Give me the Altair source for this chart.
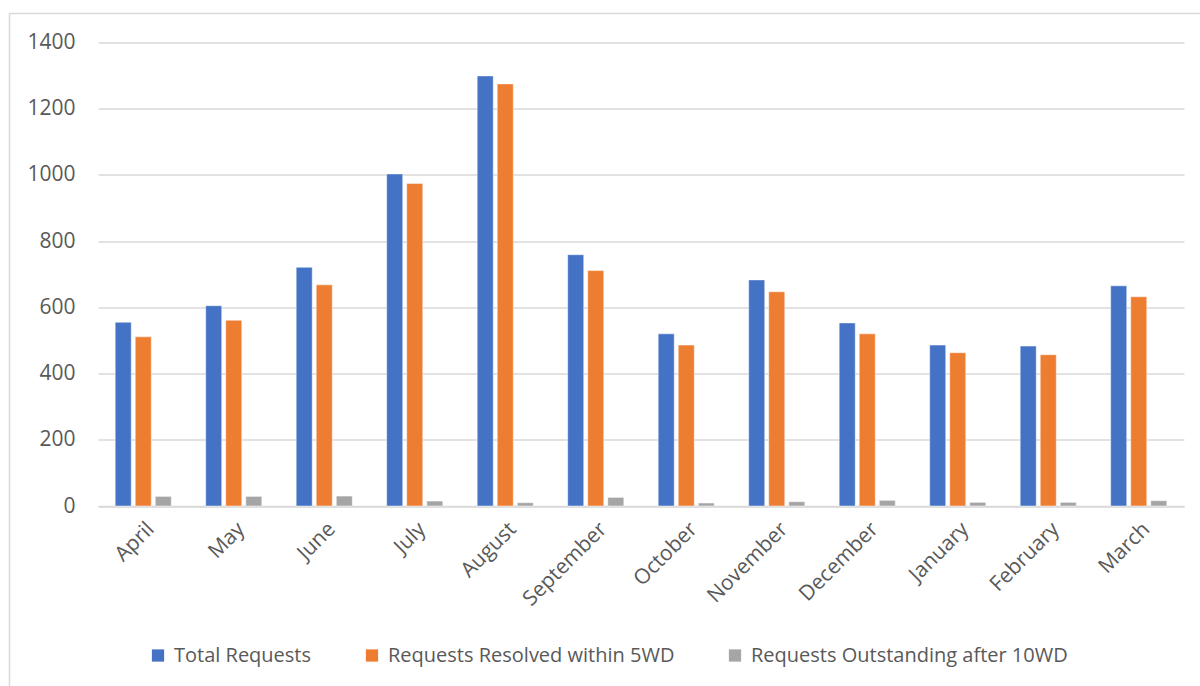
import altair as alt
import pandas as pd

months = ["April", "May", "June", "July", "August", "September", "October",
          "November", "December", "January", "February", "March"]
series = ["Total Requests", "Requests Resolved within 5WD", "Requests Outstanding after 10WD"]
total = [555, 605, 721, 1003, 1299, 759, 520, 683, 553, 486, 483, 665]
resolved = [511, 561, 668, 974, 1275, 711, 486, 647, 520, 463, 457, 632]
outstanding = [29, 29, 30, 15, 10, 26, 9, 13, 17, 11, 11, 16]
colors = ["#4472C4", "#ED7D31", "#A5A5A5"]

rows = []
for i, m in enumerate(months):
    for s, vals in zip(series, [total, resolved, outstanding]):
        rows.append({"Month": m, "Series": s, "Value": vals[i]})
df = pd.DataFrame(rows)

FONT = "Open Sans"
TXT = "#595959"

bars = alt.Chart(df).mark_bar(stroke="white", strokeWidth=0.8, strokeOpacity=0.6).encode(
    x=alt.X("Month:N", sort=months, title=None,
            scale=alt.Scale(paddingInner=0.38, paddingOuter=0.19),
            axis=alt.Axis(labelAngle=-45, labelFontSize=21, labelFont=FONT, labelColor=TXT,
                          ticks=False, domainColor="#d9d9d9", domainWidth=1.5,
                          labelPadding=12, grid=False, labelLimit=0)),
    xOffset=alt.XOffset("Series:N", sort=series, scale=alt.Scale(paddingInner=0.2)),
    y=alt.Y("Value:Q", title=None,
            scale=alt.Scale(domain=[0, 1400], nice=False),
            axis=alt.Axis(values=[0, 200, 400, 600, 800, 1000, 1200, 1400], format="d",
                          labelFontSize=21, labelFont=FONT, labelColor=TXT,
                          ticks=False, domain=False, gridColor="#d9d9d9", gridWidth=1.5,
                          labelPadding=23)),
    color=alt.Color("Series:N", sort=series,
                    scale=alt.Scale(domain=series, range=colors),
                    legend=alt.Legend(title=None, orient="none", direction="horizontal",
                                      legendX=50, legendY=603,
                                      symbolType="square", symbolSize=150,
                                      symbolStrokeWidth=0, labelLimit=0,
                                      labelFont=FONT, labelFontSize=20, labelColor=TXT,
                                      labelOffset=6, columnPadding=50)),
)

border_df = pd.DataFrame({"k": [0]})
top_border = alt.Chart(border_df).mark_rule(color="#d9d9d9", strokeWidth=1.5).encode(
    x=alt.value(-88.5), x2=alt.value(1102), y=alt.value(-29))
left_border = alt.Chart(border_df).mark_rule(color="#d9d9d9", strokeWidth=1.5).encode(
    x=alt.value(-88.5), y=alt.value(-29), y2=alt.value(700))

chart = alt.layer(bars, top_border, left_border).properties(
    width=1086, height=463.5,
    autosize=alt.AutoSizeParams(type="none"),
    padding={"left": 98, "top": 42.5, "right": 16, "bottom": 180},
    background="white",
).configure_view(stroke=None)

chart.save("out.html", embed_options={"renderer": "svg", "actions": False})
